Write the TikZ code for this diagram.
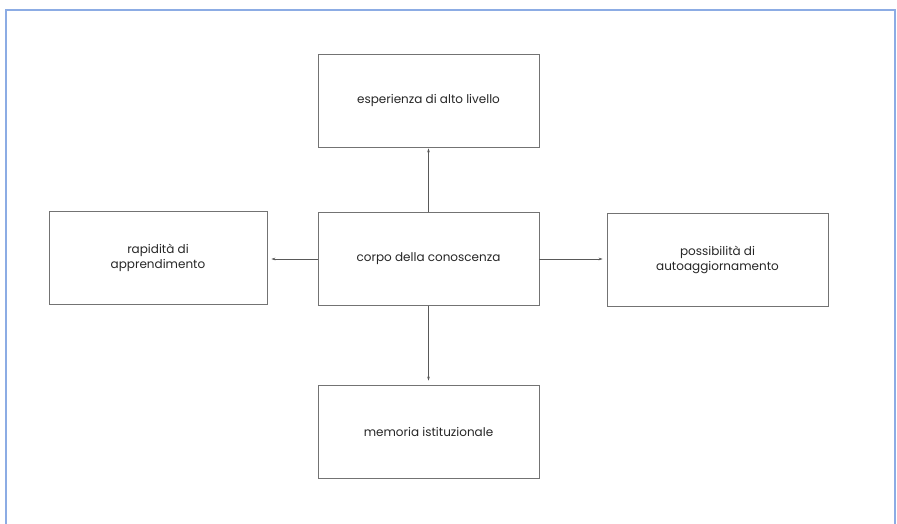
\documentclass[tikz,border=0pt]{standalone}
\usepackage{fontspec}
\setmainfont{Poppins}
\usepackage{tikz}
\usetikzlibrary{arrows.meta}
\definecolor{framecol}{RGB}{140,172,228}

\begin{document}
\begin{tikzpicture}[x=1pt, y=-1pt, >={Stealth[length=4pt,width=2.6pt]},
    box/.style={draw=black!55, line width=0.7pt, minimum width=221pt, minimum height=93pt,
        align=center, text=black!85, font=\fontsize{12}{15}\selectfont},
    link/.style={->, draw=black!65, line width=0.6pt}]
    \useasboundingbox (0,0) rectangle (897,524);

    % Outer frame
    \draw[framecol, line width=1.4pt] (6,524) -- (6,10) -- (895,10) -- (895,524);

    % Boxes
    \node[box] (centre) at (428.5,259) {corpo della conoscenza};
    \node[box] (expert) at (428.5,100.5) {esperienza di alto livello};
    \node[box] (memory) at (428.5,431.5) {memoria istituzionale};
    \node[box, minimum width=218pt] (speed) at (158,258) {rapidità di\\apprendimento};
    \node[box] (update) at (717.5,260) {possibilità di\\autoaggiornamento};

    % Arrows out of the centre
    \draw[link, shorten >=1pt] (centre.north) -- (expert.south);
    \draw[link, shorten >=4pt] (centre.south) -- (memory.north);
    \draw[link, shorten >=4pt] (centre.west) -- (speed.east |- centre.west);
    \draw[link, shorten >=4pt] (centre.east) -- (update.west |- centre.east);

\end{tikzpicture}
\end{document}
